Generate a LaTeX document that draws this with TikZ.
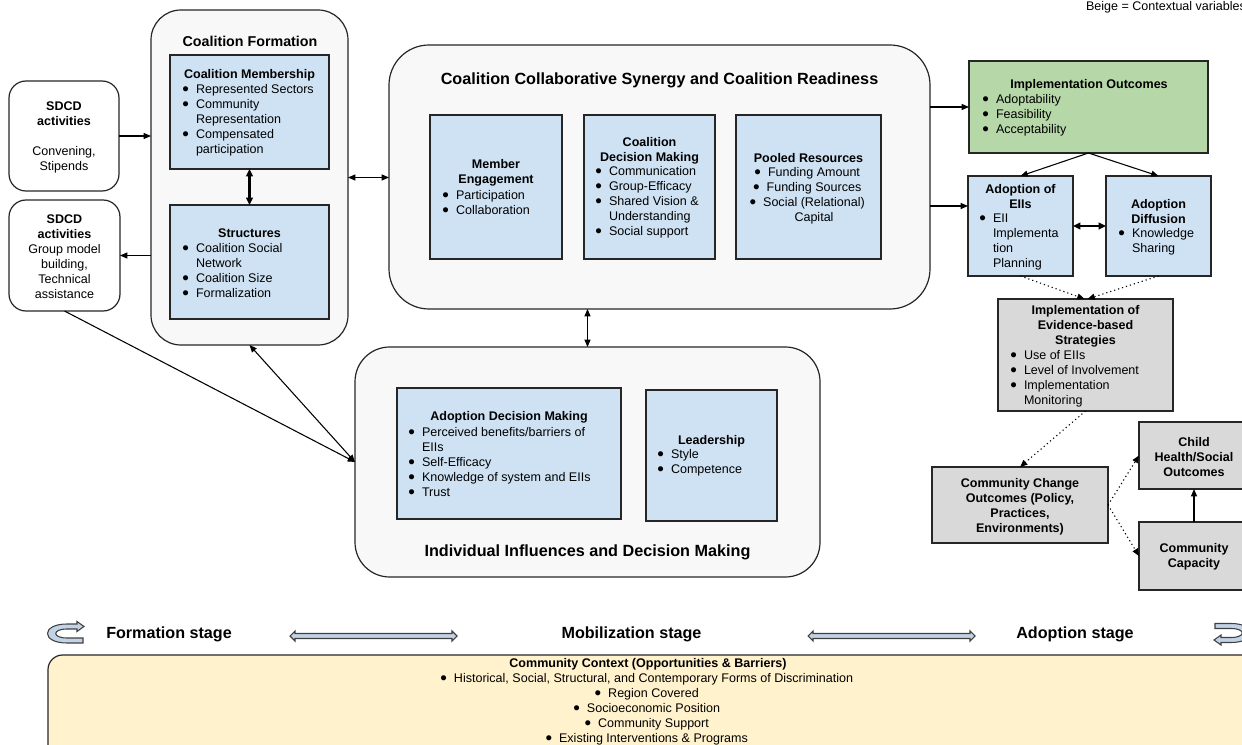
\documentclass[tikz,border=0pt]{standalone}
\usepackage{fontspec}
\setmainfont{Liberation Sans}
\usetikzlibrary{arrows.meta,calc}
\definecolor{lblue}{HTML}{CFE2F3}
\definecolor{lgreen}{HTML}{B6D7A8}
\definecolor{lgray}{HTML}{D9D9D9}
\definecolor{beige}{HTML}{FFF2CC}
\definecolor{panel}{HTML}{F8F8F8}
\definecolor{stageblue}{HTML}{C3D3E6}
\definecolor{edge}{HTML}{262626}
\newcommand{\bl}{\makebox[8.25pt][l]{\kern-1.9pt\smash{\raisebox{-1.5pt}{\scalebox{1.5}{\textbullet}}}}}
\newcommand{\hs}{\hspace*{8.25pt}}
\newcommand{\mkbox}[6]{\pgfmathsetmacro{\mkW}{(#5-#3)*0.75}\pgfmathsetmacro{\mkH}{(#6-#4)*0.75}\node[#1, minimum width=\mkW pt, minimum height=\mkH pt] (#2) at ({(#3+#5)/2},{(#4+#6)/2}) {};}
\begin{document}
\begin{tikzpicture}[x=0.75pt,y=-0.75pt,
  basebox/.style={inner sep=0pt, outer sep=0pt, draw=edge},
  sdcdbox/.style={basebox, fill=white, line width=0.9pt, rounded corners=12.75pt},
  panelbox/.style={basebox, fill=panel, line width=0.9pt},
  bluebox/.style={basebox, fill=lblue, line width=1.1pt},
  greenbox/.style={basebox, fill=lgreen, line width=1.1pt},
  graybox/.style={basebox, fill=lgray, line width=1.1pt},
  ctxbox/.style={basebox, fill=beige, line width=0.9pt, rounded corners=11pt},
  txt/.style={inner sep=0pt, outer sep=0pt, font=\fontsize{9.4}{11.25}\selectfont, align=left},
  ctr/.style={txt, align=center},
  hd/.style={txt, align=center, font=\fontsize{9.4}{11.25}\selectfont\bfseries},
  ttl/.style={inner sep=0pt, font=\fontsize{10.7}{13}\selectfont\bfseries},
  bigttl/.style={inner sep=0pt, font=\fontsize{12.15}{14}\selectfont\bfseries},
  stg/.style={inner sep=0pt, font=\fontsize{12.1}{14}\selectfont\bfseries},
  arr/.style={-{Triangle[length=5.5pt,width=4.5pt]}, line width=0.8pt, draw=black},
  darr/.style={{Triangle[length=5.5pt,width=4.5pt]}-{Triangle[length=5.5pt,width=4.5pt]}, line width=0.8pt, draw=black},
  tdarr/.style={{Triangle[length=5.5pt,width=5pt]}-{Triangle[length=5.5pt,width=5pt]}, line width=1.6pt, draw=black},
  dotarr/.style={arr, dash pattern=on 0.9pt off 2.2pt},
  stagearrow/.style={draw=black!75, line width=0.8pt, fill=stageblue},
  uturn/.pic={\draw[stagearrow] (12,-12) -- (19,-7) -- (12,-2) -- (12,-4.5) -- (2,-4.5) .. controls (-13,-4.5) and (-13,4.5) .. (2,4.5) -- (18,4.5) -- (18,9.5) -- (2,9.5) .. controls (-24,9.5) and (-24,-9.5) .. (2,-9.5) -- (12,-9.5) -- cycle;}
]
\useasboundingbox (0,0) rectangle (1242,745);

% ---------- boxes ----------
\mkbox{sdcdbox}{sdcdA}{9}{81}{119}{191}
\mkbox{sdcdbox}{sdcdB}{9}{200}{120}{311}
\mkbox{panelbox,rounded corners=22.5pt}{cf}{151}{10}{348}{345}
\mkbox{bluebox}{cm}{170}{55}{329}{169}
\mkbox{bluebox}{st}{170}{205}{329}{319}
\mkbox{panelbox,rounded corners=30pt}{syn}{389}{45}{930}{309}
\mkbox{bluebox}{me}{430}{115}{562}{259}
\mkbox{bluebox}{cdm}{584}{115}{715}{259}
\mkbox{bluebox}{pr}{736}{115}{881}{259}
\mkbox{panelbox,rounded corners=26pt}{ii}{355}{347}{820}{577}
\mkbox{bluebox}{adm}{397}{388}{621}{519}
\mkbox{bluebox}{ld}{646}{390}{777}{521}
\mkbox{greenbox}{io}{969}{61}{1208}{153}
\mkbox{bluebox}{aoe}{968}{176}{1073}{276}
\mkbox{bluebox}{ad}{1106}{176}{1211}{276}
\mkbox{graybox}{ebs}{998}{299}{1173}{411}
\mkbox{graybox}{cco}{932}{467}{1108}{543}
\mkbox{graybox}{ch}{1139}{422}{1249}{489}
\mkbox{graybox}{cc}{1139}{522}{1249}{590}
\mkbox{ctxbox}{ctx}{48}{655}{1262}{775}

% ---------- texts ----------
\node[txt, anchor=west] (legend) at (1086,7) {Beige = Contextual variables};

\node[ctr] (sdcdAt) at (64,137) {\textbf{SDCD}\\\textbf{activities}\\[11.25pt]Convening,\\Stipends};
\node[ctr] (sdcdBt) at (64.5,256.5) {\textbf{SDCD}\\\textbf{activities}\\Group model\\building,\\Technical\\assistance};

\node[ttl] (cft) at (250,41) {Coalition Formation};
\node[hd] (cmh) at (249.5,75) {Coalition Membership};
\node[txt, anchor=west] (cml) at (185,120) {\bl Represented Sectors\\\bl Community\\\hs Representation\\\bl Compensated\\\hs participation};
\node[hd] (sth) at (249.5,233) {Structures};
\node[txt, anchor=west] (stl) at (185,270.5) {\bl Coalition Social\\\hs Network\\\bl Coalition Size\\\bl Formalization};

\node[bigttl] (synt) at (659.5,80) {Coalition Collaborative Synergy and Coalition Readiness};
\node[hd] (meh) at (496,172.5) {Member\\Engagement};
\node[txt, anchor=west] (mel) at (445,202.5) {\bl Participation\\\bl Collaboration};
\node[hd] (cdmh) at (649.5,150.5) {Coalition\\Decision Making};
\node[txt, anchor=west] (cdml) at (598,202.5) {\bl Communication\\\bl Group-Efficacy\\\bl Shared Vision \&\\\hs Understanding\\\bl Social support};
\node[hd] (prh) at (808.5,158) {Pooled Resources};
\node[ctr] (prl) at (808.5,195.5) {\bl Funding Amount\\\bl Funding Sources\\\bl Social (Relational)\\\hs Capital};

\node[hd] (admh) at (509,417) {Adoption Decision Making};
\node[txt, anchor=west] (adml) at (411,462) {\bl Perceived benefits/barriers of\\\hs EIIs\\\bl Self-Efficacy\\\bl Knowledge of system and EIIs\\\bl Trust};
\node[hd] (ldh) at (711.5,441) {Leadership};
\node[txt, anchor=west] (ldl) at (660,463) {\bl Style\\\bl Competence};
\node[bigttl] (iit) at (587.5,552) {Individual Influences and Decision Making};

\node[hd] (ioh) at (1089,85) {Implementation Outcomes};
\node[txt, anchor=west] (iol) at (985,115) {\bl Adoptability\\\bl Feasibility\\\bl Acceptability};
\node[hd] (aoeh) at (1020.5,197) {Adoption of\\EIIs};
\node[txt, anchor=west] (aoel) at (982,241.5) {\bl EII\\\hs Implementa\\\hs tion\\\hs Planning};
\node[hd] (adh) at (1158.5,211.5) {Adoption\\Diffusion};
\node[txt, anchor=west] (adl) at (1121,241.5) {\bl Knowledge\\\hs Sharing};
\node[hd] (ebsh) at (1085.5,326) {Implementation of\\Evidence-based\\Strategies};
\node[txt, anchor=west] (ebsl) at (1013,378.5) {\bl Use of EIIs\\\bl Level of Involvement\\\bl Implementation\\\hs Monitoring};
\node[hd] (ccot) at (1020,506.5) {Community Change\\Outcomes (Policy,\\Practices,\\Environments)};
\node[hd] (cht) at (1194,457) {Child\\Health/Social\\Outcomes};
\node[hd] (cct) at (1194,556.5) {Community\\Capacity};

\node[stg] (s1) at (169,634.5) {Formation stage};
\node[stg] (s2) at (631.5,634.5) {Mobilization stage};
\node[stg] (s3) at (1075,634.5) {Adoption stage};

\node[ctr] (ctxt) at (648,701.5) {\textbf{Community Context (Opportunities \& Barriers)}\\\bl Historical, Social, Structural, and Contemporary Forms of Discrimination\\\bl Region Covered\\\bl Socioeconomic Position\\\bl Community Support\\\bl Existing Interventions \& Programs};

% ---------- stage arrows ----------
\draw[stagearrow] (290,636) -- (295,631) -- (295,633.5) -- (452,633.5) -- (452,631) -- (457,636) -- (452,641) -- (452,638.5) -- (295,638.5) -- (295,641) -- cycle;
\draw[stagearrow] (808,636) -- (813,631) -- (813,633.5) -- (970,633.5) -- (970,631) -- (975,636) -- (970,641) -- (970,638.5) -- (813,638.5) -- (813,641) -- cycle;
\pic at (65,633.5) {uturn};
\pic[rotate=180] at (1233,633) {uturn};

% ---------- connectors ----------
\draw[arr] (sdcdA.east) -- (sdcdA.east -| cf.west);
\draw[arr] (sdcdB.east -| cf.west) -- (sdcdB.east);
\draw[tdarr] (cm.south) -- (st.north);
\draw[darr] (cf.east) -- (cf.east -| syn.west);
\draw[arr] (io.west -| syn.east) -- (io.west);
\coordinate (aoein) at ($(aoe.west)+(0,-20)$);
\draw[arr] (aoein -| syn.east) -- (aoein);
\draw[arr] (io.south) -- (aoe.north);
\draw[arr] (io.south) -- (ad.north);
\draw[tdarr] (aoe.east) -- (ad.west);
\draw[dotarr] (aoe.south) -- ($(ebs.north)+(-1,0)$);
\draw[dotarr] (ad.south) -- ($(ebs.north)+(2,0)$);
\draw[dotarr] (ebs.south) -- (cco.north);
\draw[dotarr] (cco.east) -- (ch.west);
\draw[dotarr] (cco.east) -- (cc.west);
\draw[arr] (cc.north) -- (ch.south);
\draw[darr] (ii.north |- syn.south) -- (ii.north);
\draw[darr] (cf.south) -- (ii.west);
\draw[arr] (sdcdB.south) -- (ii.west);
\end{tikzpicture}
\end{document}
